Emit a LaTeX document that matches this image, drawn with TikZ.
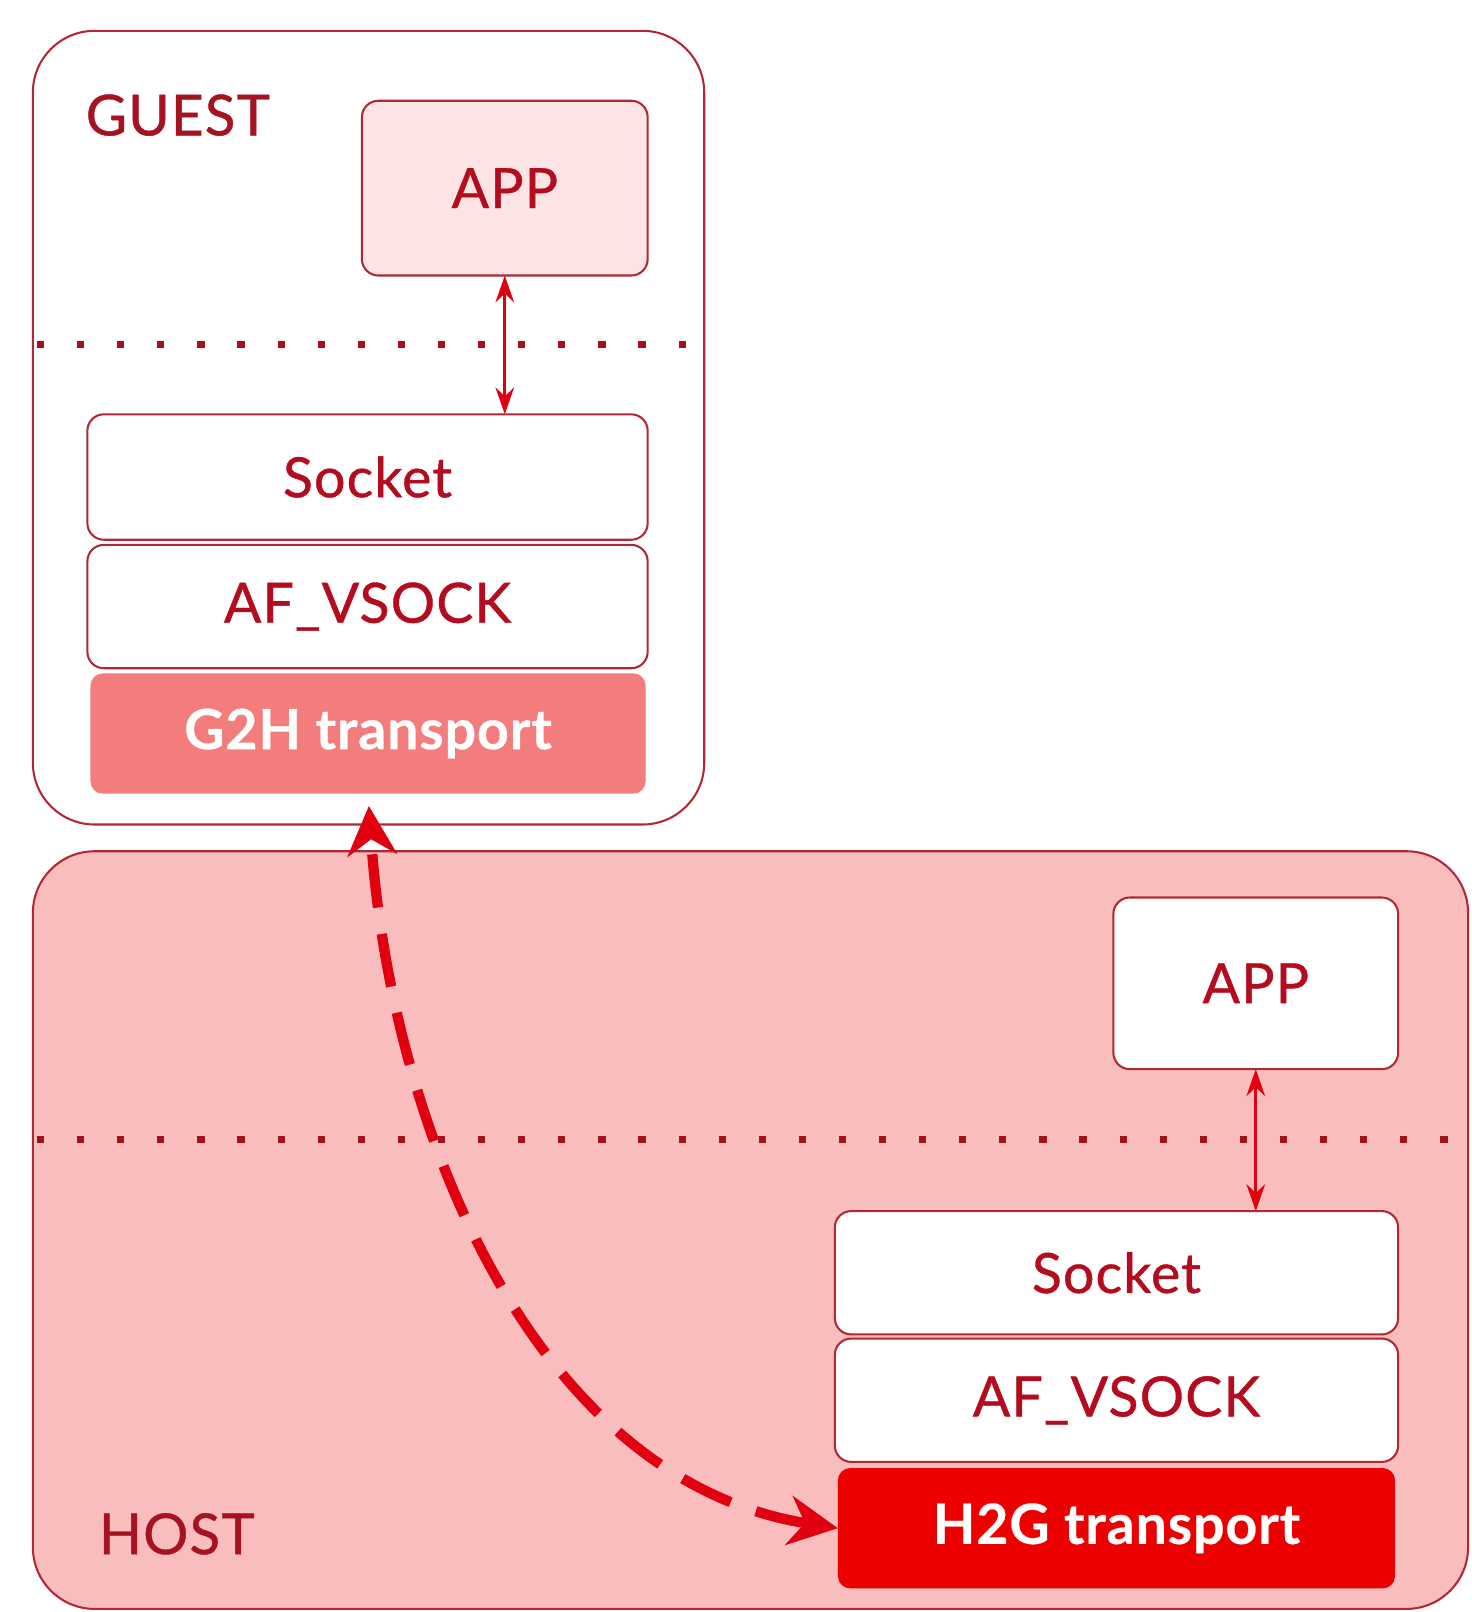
\documentclass[tikz,border=0pt]{standalone}
\usepackage{fontspec}
\setmainfont{Lato}
\newfontfamily\medfont{Lato}[FakeBold=0.7,LetterSpace=2]
\newfontfamily\heavyfont{Lato Bold}[LetterSpace=1.5,FakeBold=0.4]
\usetikzlibrary{arrows.meta}
\definecolor{txtred}{RGB}{180,12,30}
\definecolor{lblred}{RGB}{165,18,32}
\definecolor{bordred}{RGB}{176,40,52}
\definecolor{hostfill}{RGB}{249,189,189}
\definecolor{appfill}{RGB}{253,228,228}
\definecolor{gtfill}{RGB}{243,124,124}
\definecolor{htfill}{RGB}{236,0,0}
\definecolor{arrred}{RGB}{224,0,16}
\definecolor{dotred}{RGB}{165,16,28}
\tikzset{
  zone/.style={draw=bordred, line width=1pt, rounded corners=30pt, inner sep=0pt, outer sep=0pt},
  layerbox/.style={draw=bordred, line width=1pt, rounded corners=8pt, fill=white, inner sep=0pt, outer sep=0pt,
    text=txtred, font=\medfont\fontsize{27}{30}\selectfont},
  transbox/.style={rounded corners=6pt, inner sep=0pt, outer sep=0pt, text=white,
    font=\heavyfont\fontsize{27}{30}\selectfont},
  zonelabel/.style={text=lblred, font=\medfont\fontsize{27.5}{30}\selectfont, inner sep=0pt},
  dotline/.style={draw=dotred, line width=3.5pt, dash pattern=on 3.5pt off 16pt},
  thinarrow/.style={draw=arrred, line width=1.6pt, {Stealth[length=13pt,width=9pt]}-{Stealth[length=13pt,width=9pt]}},
  bigarrow/.style={draw=arrred, line width=5pt, dash pattern=on 26pt off 13pt,
    {Stealth[length=24pt,width=24pt]}-{Stealth[length=24pt,width=24pt]}}
}
\begin{document}
\begin{tikzpicture}[x=0.5pt,y=-0.5pt]
\useasboundingbox (0,0) rectangle (1431,1568);
\fill[white] (0,0) rectangle (1431,1568);
% zones
\node[zone, fill=white, minimum width=326.5pt, minimum height=386pt] (guest) at (358.5,416) {};
\node[zone, fill=hostfill, minimum width=698pt, minimum height=368.5pt] (host) at (730,1196.5) {};
% labels
\node[zonelabel] (glabel) at (173,112) {GUEST};
\node[zonelabel] (hlabel) at (172,1492) {HOST};
% dotted separators
\coordinate (gdl) at (36,335);
\coordinate (gdr) at (684,335);
\coordinate (hdl) at (36,1108);
\coordinate (hdr) at (1428,1108);
\draw[dotline] (gdl) -- (gdr);
\draw[dotline] (hdl) -- (hdr);
% guest stack
\node[layerbox, fill=appfill, minimum width=139pt, minimum height=85pt] (gapp) at (491,183) {APP};
\node[layerbox, minimum width=272.5pt, minimum height=61pt] (gsock) at (357.5,464) {Socket};
\node[layerbox, minimum width=272.5pt, minimum height=60pt] (gaf) at (357.5,590) {AF\_VSOCK};
\node[transbox, fill=gtfill, minimum width=270pt, minimum height=58.5pt] (g2h) at (358,713.5) {G2H transport};
% host stack
\node[layerbox, minimum width=138.5pt, minimum height=83.5pt] (happ) at (1221.5,956.5) {APP};
\node[layerbox, minimum width=274pt, minimum height=60pt] (hsock) at (1086,1238) {Socket};
\node[layerbox, minimum width=274pt, minimum height=60pt] (haf) at (1086,1362) {AF\_VSOCK};
\node[transbox, fill=htfill, minimum width=271pt, minimum height=58.5pt] (h2g) at (1086,1486.5) {H2G transport};
% connectors
\draw[thinarrow] (gapp.south) -- (gapp.south |- gsock.north);
\draw[thinarrow] (happ.south) -- (happ.south |- hsock.north);
\draw[bigarrow, shorten >=6pt] (h2g.west) .. controls (520,1440) and (380,1100) .. (g2h.south);
\end{tikzpicture}
\end{document}
